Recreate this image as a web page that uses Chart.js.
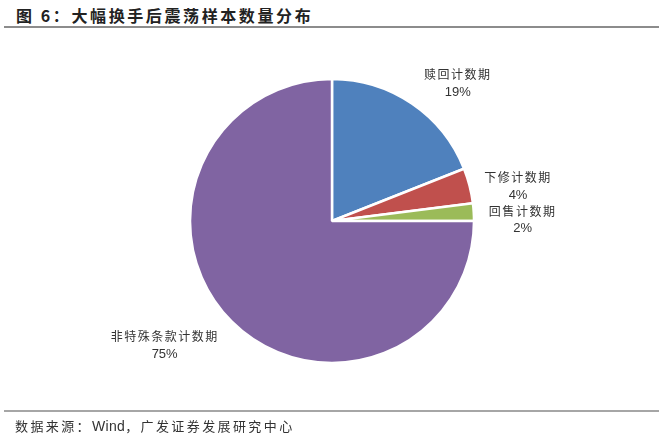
<!DOCTYPE html>
<html>
<head>
<meta charset="utf-8">
<script src="https://cdn.jsdelivr.net/npm/chart.js@4"></script>
<style>
  html, body { margin: 0; padding: 0; background: #fff; }
  body { width: 660px; height: 438px; position: relative; overflow: hidden; font-family: "Noto Sans CJK SC", "Noto Sans", sans-serif; }
  #title { position: absolute; left: 16px; top: 3px; font-size: 16px; font-weight: bold; color: #222; letter-spacing: 2.6px; }
  #topline { position: absolute; left: 4px; width: 655px; top: 26px; height: 2px; background: #8c8c8c; }
  #bottomline { position: absolute; left: 4px; width: 655px; top: 410px; height: 2px; background: #a6a6a6; }
  #source { position: absolute; left: 15px; top: 416px; font-size: 13px; color: #333; letter-spacing: 2.4px; }
  #source .en { letter-spacing: 0.3px; font-family: "Liberation Sans", Arial, sans-serif; font-size: 14px; }
  #wrap { position: absolute; left: 0; top: 0; width: 660px; height: 438px; }
</style>
</head>
<body>
<div id="title">图 6：大幅换手后震荡样本数量分布</div>
<div id="topline"></div>
<div id="wrap"><canvas id="chart"></canvas></div>
<div id="bottomline"></div>
<div id="source">数据来源：<span class="en">Wind</span>，广发证券发展研究中心</div>
<script>
// 数据
var categories = ['赎回计数期', '下修计数期', '回售计数期', '非特殊条款计数期'];
var shares = [19, 4, 2, 75];
var colors = ['#4F81BD', '#C0504D', '#9BBB59', '#8064A2'];
// 标签微调 (相对扇区中线位置)
var labelNudge = [[19, 19.5], [2, 12.5], [1, 10.5], [-33, -10]];

var labelPlugin = {
    id: 'outsideLabels',
    afterDraw: function (chart) {
        var ctx = chart.ctx;
        var meta = chart.getDatasetMeta(0);
        ctx.save();
        ctx.fillStyle = '#333';
        ctx.textAlign = 'center';
        ctx.textBaseline = 'middle';
        meta.data.forEach(function (arc, i) {
            var p = arc.getProps(['x', 'y', 'startAngle', 'endAngle', 'outerRadius'], true);
            var mid = (p.startAngle + p.endAngle) / 2;
            var r = p.outerRadius + 48;
            var x = p.x + Math.cos(mid) * r + labelNudge[i][0];
            var y = p.y + Math.sin(mid) * r + labelNudge[i][1];
            ctx.font = '12px "Noto Sans CJK SC", sans-serif';
            ctx.letterSpacing = '1.5px';
            ctx.fillText(categories[i], x, y - 8.5);
            ctx.letterSpacing = '0px';
            ctx.font = '13px "Liberation Sans", Arial, sans-serif';
            ctx.fillText(shares[i] + '%', x, y + 9);
        });
        ctx.restore();
    }
};

document.addEventListener('DOMContentLoaded', function () {
    var ctx = document.getElementById('chart').getContext('2d');

    var data = {
        labels: categories,
        datasets: [{
            data: shares,
            backgroundColor: colors,
            borderColor: '#ffffff',
            borderWidth: 2.5
        }]
    };

    var options = {
        responsive: true,
        maintainAspectRatio: false,
        animation: false,
        radius: 142,
        layout: { padding: { left: 4, top: 4, right: 0, bottom: 0 } },
        plugins: {
            legend: { display: false },
            tooltip: { enabled: false }
        }
    };

    new Chart(ctx, {
        type: 'pie',
        data: data,
        options: options,
        plugins: [labelPlugin]
    });
});
</script>
</body>
</html>
